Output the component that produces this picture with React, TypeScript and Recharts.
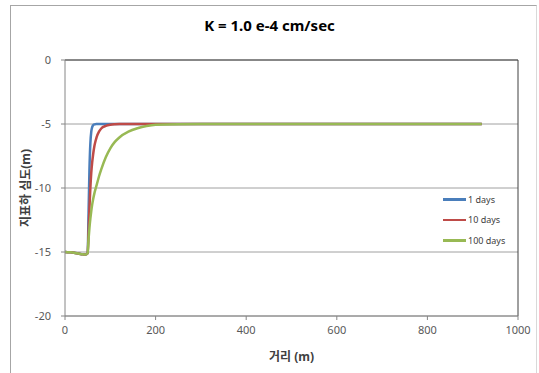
import { LineChart, Line, XAxis, YAxis, CartesianGrid, ReferenceLine } from 'recharts';

const distance = [0, 10, 20, 30, 40, 45, 50, 52, 54, 56, 58, 60, 62, 65, 68, 70, 75, 80, 90, 100, 110, 120, 140, 160, 180, 200, 250, 300, 400, 500, 600, 700, 800, 920];
const depth1 = [-15, -15.02, -15.05, -15.12, -15.18, -15.2, -15.1, -12, -8.5, -6.5, -5.6, -5.25, -5.1, -5.03, -5.01, -5, -5, -5, -5, -5, -5, -5, -5, -5, -5, -5, -5, -5, -5, -5, -5, -5, -5, -5];
const depth10 = [-15, -15.02, -15.05, -15.12, -15.18, -15.2, -15.1, -13.5, -11.5, -10, -8.8, -8, -7.4, -6.7, -6.25, -6.0, -5.6, -5.35, -5.15, -5.06, -5.02, -5, -5, -5, -5, -5, -5, -5, -5, -5, -5, -5, -5, -5];
const depth100 = [-15, -15.02, -15.05, -15.12, -15.18, -15.2, -15.1, -14, -13.1, -12.4, -11.8, -11.3, -10.9, -10.4, -10.0, -9.75, -9.1, -8.55, -7.6, -6.9, -6.4, -6.05, -5.6, -5.33, -5.15, -5.05, -5.01, -5, -5, -5, -5, -5, -5, -5];

const xTicks = [0, 200, 400, 600, 800, 1000];
const yTicks = [0, -5, -10, -15, -20];

const seriesNames = ['1 days', '10 days', '100 days'];
const seriesKeys = ['d1', 'd10', 'd100'];
const colors = ['#4A7EBB', '#BE4B48', '#98B954'];

const data = distance.map((x, i) => ({ x, d1: depth1[i], d10: depth10[i], d100: depth100[i] }));

const font = '"Noto Sans", "Noto Sans CJK KR", sans-serif';
const tickStyle = { fontSize: 11, fill: '#595959', fontFamily: font };

function LegendBox() {
  return (
    <div style={{ position: 'absolute', left: 443, top: 189, fontFamily: font, fontSize: 9, color: '#404040' }}>
      {seriesNames.map((name, i) => (
        <div key={name} style={{ display: 'flex', alignItems: 'center', height: 20.5 }}>
          <div style={{ width: 23, height: 2.5, background: colors[i], marginRight: 2 }} />
          <span>{name}</span>
        </div>
      ))}
    </div>
  );
}

export default function App() {
  return (
    <div style={{ position: 'fixed', left: 0, top: 0, width: 539, height: 373, background: '#fff', overflow: 'hidden' }}>
      <div
        style={{
          position: 'absolute',
          left: 10,
          top: 5,
          width: 527,
          height: 368,
          boxSizing: 'border-box',
          borderTop: '1px solid #a6a6a6',
          borderLeft: '1px solid #a6a6a6',
          borderRight: '1px solid #d9d9d9',
        }}
      />
      <div
        style={{
          position: 'absolute',
          left: 0,
          width: 539,
          top: 15,
          textAlign: 'center',
          fontFamily: font,
          fontWeight: 700,
          fontSize: 15,
          color: '#000',
        }}
      >
        K = 1.0 e-4 cm/sec
      </div>
      <LineChart width={539} height={373} data={data} margin={{ top: 60, right: 21, bottom: 0, left: 0 }}>
        <CartesianGrid horizontal vertical={false} stroke="#a0a0a0" />
        <XAxis
          dataKey="x"
          type="number"
          domain={[0, 1000]}
          ticks={xTicks}
          height={57}
          stroke="#868686"
          tickSize={4}
          tickMargin={6}
          tick={tickStyle}
          label={{
            content: (props: any) => {
              const vb = props.viewBox;
              return (
                <text x={vb.x + vb.width / 2} y={vb.y + 45} textAnchor="middle" fontFamily={font} fontSize={12} fontWeight={700} fill="#404040">
                  거리 (m)
                </text>
              );
            },
          }}
        />
        <YAxis
          type="number"
          domain={[-20, 0]}
          ticks={yTicks}
          width={65}
          stroke="#868686"
          tickSize={4}
          tickMargin={10}
          tick={tickStyle}
          label={{
            content: (props: any) => {
              const vb = props.viewBox;
              const cx = vb.x + 25;
              const cy = vb.y + vb.height / 2;
              return (
                <text x={cx} y={cy} transform={`rotate(-90 ${cx} ${cy})`} textAnchor="middle" dominantBaseline="central" fontFamily={font} fontSize={12} fontWeight={700} fill="#404040">
                  지표하 심도(m)
                </text>
              );
            },
          }}
        />
        <ReferenceLine y={0} stroke="#404040" />
        <ReferenceLine x={1000} stroke="#404040" />
        {seriesKeys.map((k, i) => (
          <Line
            key={k}
            type="monotone"
            dataKey={k}
            name={seriesNames[i]}
            stroke={colors[i]}
            strokeWidth={2.5}
            dot={false}
            isAnimationActive={false}
          />
        ))}
      </LineChart>
      <LegendBox />
    </div>
  );
}
